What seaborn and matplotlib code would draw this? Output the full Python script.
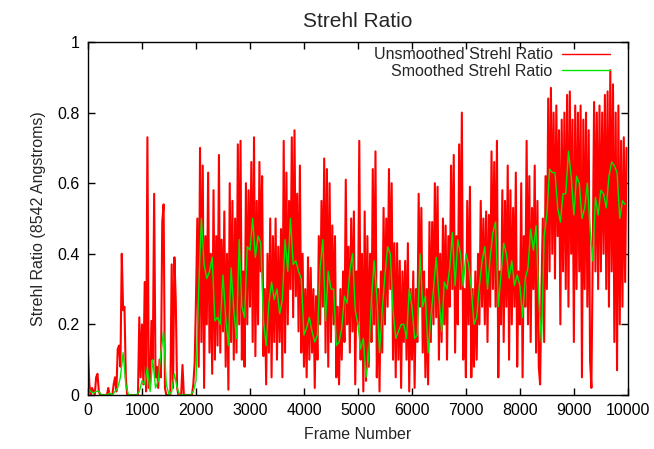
import numpy as np
import pandas as pd
import matplotlib
matplotlib.use("Agg")
import matplotlib.pyplot as plt
import seaborn as sns
from matplotlib.ticker import FormatStrFormatter

# Strehl ratio, one value every 25 frames (unsmoothed)
raw_step = 25
raw_strehl = [
    0.12, 0.03, 0.00, 0.02, 0.01, 0.00, 0.05, 0.06, 0.01, 0.00, 0.00, 0.00, 0.00, 0.00, 0.00, 0.02, 0.00, 0.00, 0.00, 0.03,
    0.05, 0.01, 0.13, 0.14, 0.08, 0.40, 0.24, 0.25, 0.05, 0.00, 0.00, 0.00, 0.00, 0.00, 0.00, 0.00, 0.00, 0.00, 0.22, 0.05,
    0.20, 0.03, 0.32, 0.01, 0.73, 0.02, 0.03, 0.21, 0.10, 0.57, 0.05, 0.08, 0.02, 0.10, 0.05, 0.49, 0.54, 0.02, 0.00, 0.00,
    0.00, 0.00, 0.37, 0.02, 0.39, 0.27, 0.02, 0.00, 0.00, 0.00, 0.085, 0.00, 0.00, 0.00, 0.00, 0.00, 0.00, 0.00, 0.03, 0.09,
    0.27, 0.50, 0.08, 0.70, 0.15, 0.65, 0.02, 0.45, 0.20, 0.63, 0.12, 0.40, 0.06, 0.58, 0.10, 0.45, 0.14, 0.68, 0.12, 0.44,
    0.18, 0.52, 0.08, 0.40, 0.015, 0.60, 0.15, 0.55, 0.10, 0.50, 0.12, 0.71, 0.20, 0.72, 0.10, 0.35, 0.08, 0.60, 0.20, 0.58,
    0.25, 0.66, 0.15, 0.73, 0.11, 0.55, 0.20, 0.66, 0.35, 0.62, 0.11, 0.30, 0.03, 0.40, 0.12, 0.50, 0.05, 0.45, 0.15, 0.50,
    0.10, 0.42, 0.15, 0.47, 0.05, 0.72, 0.12, 0.63, 0.20, 0.55, 0.30, 0.73, 0.22, 0.75, 0.28, 0.57, 0.18, 0.65, 0.12, 0.40,
    0.08, 0.30, 0.05, 0.39, 0.10, 0.36, 0.12, 0.30, 0.02, 0.28, 0.10, 0.45, 0.20, 0.55, 0.25, 0.67, 0.12, 0.64, 0.08, 0.60,
    0.15, 0.48, 0.20, 0.45, 0.05, 0.25, 0.03, 0.30, 0.10, 0.35, 0.15, 0.61, 0.20, 0.42, 0.12, 0.50, 0.18, 0.52, 0.03, 0.35,
    0.20, 0.72, 0.10, 0.40, 0.01, 0.52, 0.04, 0.45, 0.08, 0.40, 0.15, 0.64, 0.20, 0.69, 0.05, 0.30, 0.01, 0.35, 0.12, 0.53,
    0.20, 0.50, 0.25, 0.64, 0.30, 0.60, 0.10, 0.43, 0.05, 0.43, 0.10, 0.38, 0.02, 0.35, 0.15, 0.38, 0.10, 0.43, 0.01, 0.30,
    0.10, 0.35, 0.02, 0.30, 0.15, 0.57, 0.25, 0.53, 0.12, 0.35, 0.05, 0.30, 0.03, 0.49, 0.15, 0.49, 0.20, 0.60, 0.22, 0.59,
    0.10, 0.40, 0.15, 0.50, 0.20, 0.48, 0.10, 0.45, 0.25, 0.65, 0.30, 0.68, 0.12, 0.45, 0.20, 0.71, 0.30, 0.80, 0.10, 0.30,
    0.05, 0.55, 0.20, 0.59, 0.05, 0.30, 0.08, 0.35, 0.10, 0.40, 0.20, 0.55, 0.25, 0.50, 0.20, 0.52, 0.15, 0.51, 0.25, 0.69,
    0.30, 0.66, 0.25, 0.72, 0.05, 0.35, 0.20, 0.58, 0.15, 0.55, 0.25, 0.65, 0.10, 0.58, 0.20, 0.53, 0.25, 0.63, 0.08, 0.35,
    0.20, 0.60, 0.05, 0.45, 0.25, 0.72, 0.20, 0.62, 0.15, 0.53, 0.30, 0.65, 0.12, 0.55, 0.08, 0.03, 0.30, 0.50, 0.15, 0.62,
    0.30, 0.84, 0.35, 0.87, 0.40, 0.80, 0.33, 0.82, 0.45, 0.75, 0.20, 0.78, 0.35, 0.80, 0.30, 0.85, 0.25, 0.86, 0.40, 0.78,
    0.15, 0.82, 0.30, 0.80, 0.35, 0.82, 0.05, 0.78, 0.30, 0.80, 0.25, 0.75, 0.10, 0.02, 0.40, 0.83, 0.35, 0.80, 0.30, 0.82,
    0.35, 0.80, 0.40, 0.85, 0.30, 0.86, 0.25, 0.92, 0.35, 0.88, 0.15, 0.80, 0.07, 0.82, 0.20, 0.72, 0.25, 0.73, 0.32, 0.70,
]

# smoothed Strehl ratio, one value every 50 frames
smooth_step = 50
smooth_strehl = [
    0.02, 0.01, 0.005, 0.01, 0.01, 0.00, 0.00, 0.00, 0.005, 0.00, 0.01, 0.02, 0.05, 0.12, 0.03, 0.00, 0.00, 0.00, 0.00, 0.01,
    0.04, 0.03, 0.08, 0.01, 0.10, 0.02, 0.04, 0.12, 0.18, 0.03, 0.00, 0.01, 0.06, 0.02, 0.00, 0.00, 0.00, 0.00, 0.00, 0.01,
    0.04, 0.30, 0.50, 0.37, 0.33, 0.35, 0.39, 0.21, 0.22, 0.20, 0.34, 0.22, 0.14, 0.36, 0.24, 0.16, 0.44, 0.25, 0.22, 0.42,
    0.41, 0.50, 0.39, 0.45, 0.43, 0.21, 0.14, 0.26, 0.32, 0.27, 0.30, 0.23, 0.27, 0.44, 0.35, 0.50, 0.37, 0.38, 0.35, 0.33,
    0.17, 0.19, 0.22, 0.18, 0.15, 0.17, 0.36, 0.44, 0.21, 0.35, 0.30, 0.30, 0.14, 0.15, 0.19, 0.28, 0.26, 0.35, 0.40, 0.24,
    0.20, 0.13, 0.16, 0.05, 0.11, 0.27, 0.38, 0.28, 0.12, 0.24, 0.34, 0.42, 0.40, 0.24, 0.16, 0.18, 0.20, 0.20, 0.16, 0.30,
    0.25, 0.16, 0.17, 0.40, 0.25, 0.28, 0.12, 0.22, 0.30, 0.39, 0.28, 0.18, 0.32, 0.30, 0.36, 0.46, 0.31, 0.44, 0.40, 0.31,
    0.40, 0.37, 0.30, 0.20, 0.22, 0.31, 0.38, 0.42, 0.30, 0.39, 0.46, 0.49, 0.25, 0.34, 0.43, 0.40, 0.33, 0.38, 0.31, 0.34,
    0.31, 0.22, 0.33, 0.36, 0.47, 0.41, 0.48, 0.27, 0.15, 0.45, 0.51, 0.64, 0.63, 0.63, 0.53, 0.49, 0.57, 0.57, 0.69, 0.62,
    0.51, 0.62, 0.60, 0.50, 0.53, 0.60, 0.47, 0.38, 0.56, 0.51, 0.58, 0.57, 0.53, 0.62, 0.66, 0.65, 0.63, 0.50, 0.55, 0.54,
]

raw_df = pd.DataFrame({"frame": np.arange(len(raw_strehl)) * raw_step, "strehl": raw_strehl})
smooth_df = pd.DataFrame({"frame": np.arange(len(smooth_strehl)) * smooth_step, "strehl": smooth_strehl})

sns.set_theme(style="ticks")
plt.rcParams["font.family"] = ["Liberation Sans", "DejaVu Sans"]

fig, ax = plt.subplots(figsize=(6.54, 4.49), dpi=100)
fig.subplots_adjust(left=0.1346, right=0.960, bottom=0.1203, top=0.9065)

# red drawn a little thicker so the dense trace fills like the original
sns.lineplot(data=raw_df, x="frame", y="strehl", ax=ax, color="#ff0000",
             linewidth=1.5, estimator=None, sort=False, label="Unsmoothed Strehl Ratio")
sns.lineplot(data=smooth_df, x="frame", y="strehl", ax=ax, color="#00e600",
             linewidth=1.0, estimator=None, sort=False, label="Smoothed Strehl Ratio")

ax.set_xlim(0, 10000)
ax.set_ylim(0, 1)
ax.set_xticks(np.arange(0, 10001, 1000))
ax.set_yticks(np.arange(0, 1.01, 0.2))
ax.yaxis.set_major_formatter(FormatStrFormatter("%g"))
ax.tick_params(direction="in", length=5, width=1, top=True, right=True,
               labelsize=11.5, colors="black", pad=6)
for sp in ax.spines.values():
    sp.set_linewidth(1.0)
    sp.set_color("black")

ax.set_title("Strehl Ratio", fontsize=15, pad=11)
ax.set_xlabel("Frame Number", fontsize=11.5, labelpad=6)
ax.set_ylabel("Strehl Ratio (8542 Angstroms)", fontsize=11.5, labelpad=8)

leg = ax.legend(loc="upper right", bbox_to_anchor=(0.979, 1.003), frameon=False,
                markerfirst=False, fontsize=11.5, handlelength=3.0,
                handletextpad=0.6, labelspacing=0.1, borderaxespad=0.0)
for line in leg.get_lines():
    line.set_linewidth(1.0)

fig.savefig("out.png", dpi=100)
